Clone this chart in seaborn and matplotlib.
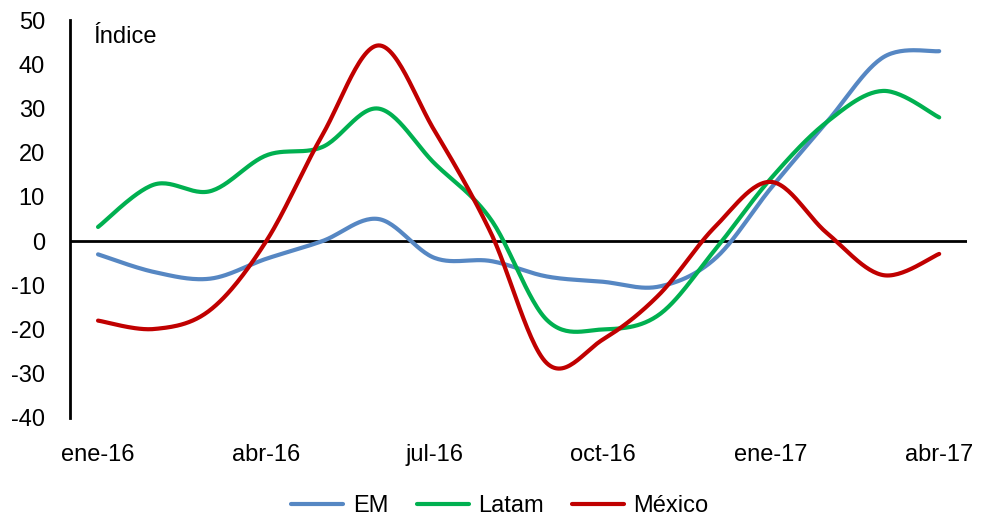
import numpy as np
import pandas as pd
import matplotlib
matplotlib.use('Agg')
import matplotlib.pyplot as plt
import seaborn as sns

# monthly data, ene-16 .. abr-17
months = ['ene-16', 'feb-16', 'mar-16', 'abr-16', 'may-16', 'jun-16', 'jul-16', 'ago-16',
          'sep-16', 'oct-16', 'nov-16', 'dic-16', 'ene-17', 'feb-17', 'mar-17', 'abr-17']
em = [-3, -7, -8.5, -4, 0, 5, -3.8, -4.5, -8, -9.2, -10.3, -4, 12, 27, 41.6, 43]
latam = [3.2, 12.8, 11.3, 19.4, 21.3, 30, 17.6, 5, -17.8, -20, -16.7, -2, 14.2, 27, 34, 28]
mexico = [-18, -19.9, -15.6, 0, 24, 44.3, 25, 2, -27.6, -22.3, -12.2, 3.2, 13.4, 1.8, -7.7, -2.9]

series = {'EM': em, 'Latam': latam, 'México': mexico}
colors = {'EM': '#5687C3', 'Latam': '#00B050', 'México': '#C00000'}
tick_months = [0, 3, 6, 9, 12, 15]


def smooth(y, n=30):
    '''Excel-like smoothed line: cubic Bezier through the points (Catmull-Rom tangents)'''
    x = np.arange(len(y), dtype=float)
    y = np.asarray(y, dtype=float)
    xs, ys = [], []
    for i in range(len(y) - 1):
        i0, i3 = max(i - 1, 0), min(i + 2, len(y) - 1)
        p0 = np.array([x[i], y[i]])
        p3 = np.array([x[i + 1], y[i + 1]])
        c1 = p0 + (p3 - np.array([x[i0], y[i0]])) / 6
        c2 = p3 - (np.array([x[i3], y[i3]]) - p0) / 6
        t = np.linspace(0, 1, n)[:, None]
        pts = (1 - t)**3 * p0 + 3 * (1 - t)**2 * t * c1 + 3 * (1 - t) * t**2 * c2 + t**3 * p3
        xs.extend(pts[:, 0])
        ys.extend(pts[:, 1])
    return xs, ys


rows = []
for name, vals in series.items():
    xs, ys = smooth(vals)
    rows.append(pd.DataFrame({'x': xs, 'value': ys, 'serie': name}))
df = pd.concat(rows, ignore_index=True)

sns.set_style('white')
plt.rcParams['font.family'] = ['Liberation Sans', 'DejaVu Sans']
plt.rcParams['axes.unicode_minus'] = False
plt.rcParams['text.color'] = 'black'

fig = plt.figure(figsize=(9.9, 5.19), dpi=100)
ax = fig.add_axes([0.0707, 0.195, 0.9063, 0.766])

sns.lineplot(data=df, x='x', y='value', hue='serie', palette=colors, sort=False,
             estimator=None, linewidth=3, ax=ax, legend=False)

ax.axhline(0, color='black', linewidth=2, zorder=1)
ax.set_xlim(-0.5, 15.5)
ax.set_ylim(-40, 50)
ax.set_yticks(np.arange(-40, 51, 10))
ax.set_xticks(tick_months)
ax.set_xticklabels([months[i] for i in tick_months])
ax.tick_params(axis='both', length=0, labelsize=17, colors='black')
ax.tick_params(axis='y', pad=18)
ax.tick_params(axis='x', pad=19)
ax.set_xlabel('')
ax.set_ylabel('')
for s in ['top', 'right', 'bottom']:
    ax.spines[s].set_visible(False)
ax.spines['left'].set_color('black')
ax.spines['left'].set_linewidth(2)

ax.text(0.026, 0.985, 'Índice', transform=ax.transAxes, fontsize=17, va='top', ha='left',
        color='black')

handles = [plt.Line2D([], [], color=colors[k], linewidth=3) for k in series]
fig.legend(handles, list(series.keys()), loc='lower center', bbox_to_anchor=(0.505, -0.037),
           ncol=3, frameon=False, fontsize=17, handlelength=2.2, handletextpad=0.4,
           columnspacing=1.2, labelcolor='black')

fig.savefig('out.png', dpi=100)
